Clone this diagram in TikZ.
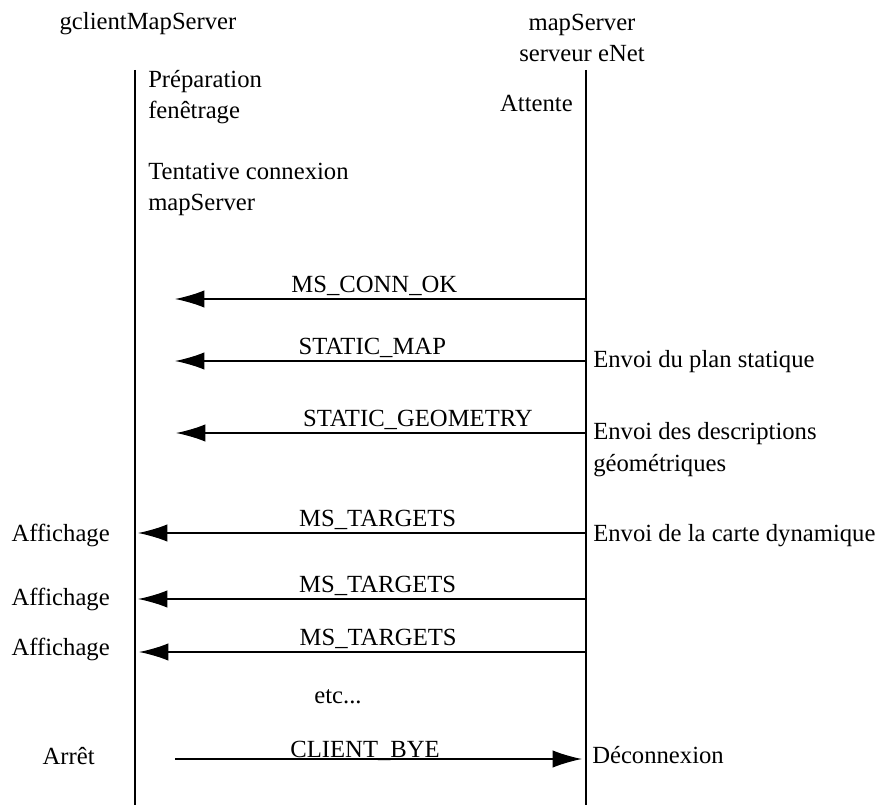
\documentclass[tikz,border=0pt]{standalone}
\usepackage{fontspec}
\setmainfont{Liberation Serif}
\usetikzlibrary{arrows.meta,positioning}
\tikzset{
  lifeline/.style={line width=1.4pt,black},
  msg/.style={-{Latex[length=22pt,width=13pt]},line width=1.1pt,black},
  msglabel/.style={anchor=base,inner sep=0pt,yshift=5pt},
  actor/.style={align=center,inner sep=0pt,anchor=base},
  leftnote/.style={align=left,inner sep=0pt,anchor=base west},
  rightnote/.style={align=right,inner sep=0pt,anchor=base east}
}

\begin{document}
\begin{tikzpicture}[x=0.75pt,y=-0.75pt,font=\fontsize{18.5}{23.5}\selectfont]
  \useasboundingbox (0,0) rectangle (885,805);
  % acteurs (base = derniere ligne)
  \node[actor] (client) at (148,30) {gclientMapServer};
  \node[actor] (server) at (582,62) {mapServer\\serveur eNet};
  % lignes de vie
  \coordinate (ctop) at (135,70);
  \coordinate (cbot) at (135,805);
  \coordinate (stop) at (586,70);
  \coordinate (sbot) at (586,805);
  \draw[lifeline] (ctop) -- (cbot);
  \draw[lifeline] (stop) -- (sbot);
  % etats initiaux
  \node[leftnote] (prep) at (148,119) {Préparation\\fenêtrage};
  \node[rightnote] (wait) at (573,112) {Attente};
  \node[leftnote] (try) at (148,211) {Tentative connexion\\mapServer};
  % messages
  \coordinate (s1) at (586,299); \coordinate (c1) at (175,299);
  \coordinate (s2) at (586,361); \coordinate (c2) at (175,361);
  \coordinate (s3) at (586,433); \coordinate (c3) at (176,433);
  \coordinate (s4) at (586,533); \coordinate (c4) at (138,533);
  \coordinate (s5) at (586,599); \coordinate (c5) at (138,599);
  \coordinate (s6) at (586,652); \coordinate (c6) at (139,652);
  \coordinate (c7) at (175,759); \coordinate (s7) at (582,759);
  \draw[msg] (s1) -- node[msglabel,pos=0.515] {MS\_CONN\_OK} (c1);
  \draw[msg] (s2) -- node[msglabel,pos=0.52] {STATIC\_MAP} (c2);
  \draw[msg] (s3) -- node[msglabel,pos=0.41] {STATIC\_GEOMETRY} (c3);
  \draw[msg] (s4) -- node[msglabel,pos=0.465] {MS\_TARGETS} (c4);
  \draw[msg] (s5) -- node[msglabel,pos=0.465] {MS\_TARGETS} (c5);
  \draw[msg] (s6) -- node[msglabel,pos=0.465] {MS\_TARGETS} (c6);
  \node[anchor=base,inner sep=0pt] (etc) at (338,703) {etc...};
  \draw[msg] (c7) -- node[msglabel,pos=0.467,yshift=-3.5pt] {CLIENT\_BYE} (s7);
  % actions serveur
  \node[leftnote] (plan) at (593,368) {Envoi du plan statique};
  \node[leftnote] (geom) at (593,471) {Envoi des descriptions\\géométriques};
  \node[leftnote] (carte) at (593,541) {Envoi de la carte dynamique};
  \node[leftnote] (deco) at (592,763) {Déconnexion};
  % actions client
  \node[rightnote] (aff1) at (110,541) {Affichage};
  \node[rightnote] (aff2) at (110,605) {Affichage};
  \node[rightnote] (aff3) at (110,655) {Affichage};
  \node[rightnote] (stopc) at (95,764) {Arrêt};
\end{tikzpicture}
\end{document}
